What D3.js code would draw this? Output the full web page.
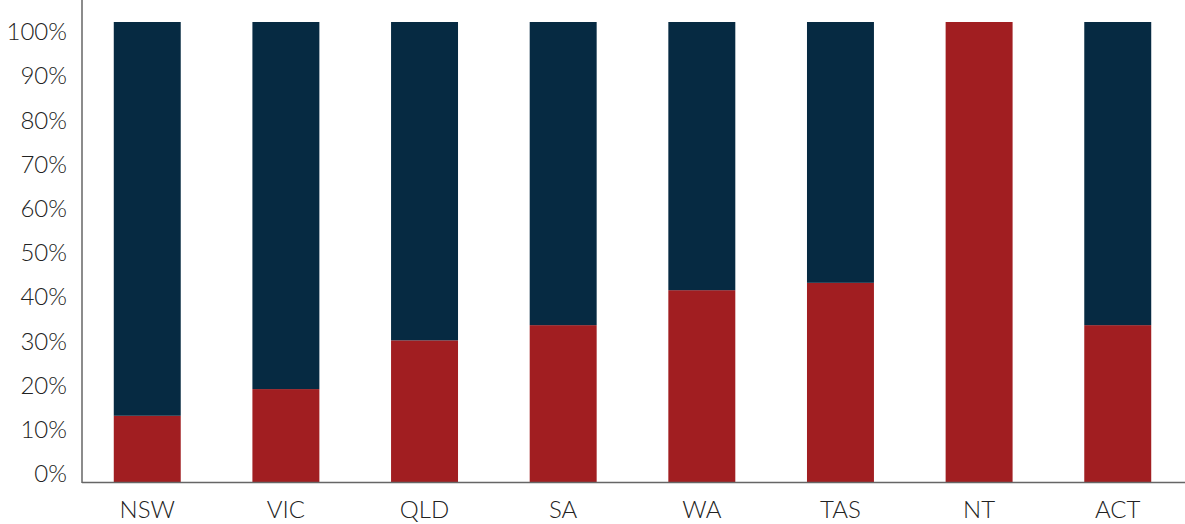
<!DOCTYPE html>
<html>
<head>
<meta charset="utf-8">
<script src="https://cdn.jsdelivr.net/npm/d3@7"></script>
<style>
  body { margin: 0; background: #fff; }
  text { font-family: Lato, "Noto Sans", sans-serif; font-weight: 300; fill: #222; }
</style>
</head>
<body>
<script>
var w = 1185;
var h = 524;

// share of each state, red part (rest is navy)
var states = ["NSW", "VIC", "QLD", "SA", "WA", "TAS", "NT", "ACT"];
var redShare = [0.144, 0.202, 0.308, 0.341, 0.417, 0.433, 1.0, 0.341];
var navyShare = [0.856, 0.798, 0.692, 0.659, 0.583, 0.567, 0.0, 0.659];
var tickValues = [0, 0.1, 0.2, 0.3, 0.4, 0.5, 0.6, 0.7, 0.8, 0.9, 1.0];

var red = "#a11e21";
var navy = "#062a42";

var svg = d3.select("body")
            .append("svg")
            .attr("width", w)
            .attr("height", h);

var x = d3.scaleBand()
          .domain(states)
          .range([78, 1187])
          .paddingInner(0.517)
          .paddingOuter(0.258);

var y = d3.scaleLinear().domain([0, 1]).range([482, 22]);
// labels sit a little tighter than the bars
var yLab = d3.scaleLinear().domain([0, 1]).range([474, 32]);

var rows = states.map(function(s, i) {
    return { state: s, red: redShare[i], navy: navyShare[i] };
});
var stack = d3.stack().keys(["red", "navy"])(rows);
var colors = { red: red, navy: navy };

svg.selectAll("g.layer")
    .data(stack)
    .enter()
    .append("g")
    .attr("class", "layer")
    .attr("fill", function(d) { return colors[d.key]; })
    .selectAll("rect")
    .data(function(d) { return d; })
    .enter()
    .append("rect")
    .attr("x", function(d) { return x(d.data.state); })
    .attr("width", x.bandwidth())
    .attr("y", function(d) { return y(d[1]); })
    .attr("height", function(d) { return y(d[0]) - y(d[1]); });

// axis lines
svg.append("line")
    .attr("x1", 82).attr("x2", 82)
    .attr("y1", 0).attr("y2", 483)
    .attr("stroke", "#666").attr("stroke-width", 1.5);
svg.append("line")
    .attr("x1", 82).attr("x2", 1185)
    .attr("y1", 482.5).attr("y2", 482.5)
    .attr("stroke", "#666").attr("stroke-width", 1.5);

var yAxis = svg.append("g")
    .attr("transform", "translate(67,0)")
    .call(d3.axisLeft(yLab).tickValues(tickValues).tickSize(0).tickPadding(0)
        .tickFormat(d3.format(".0%")));
yAxis.select(".domain").remove();
yAxis.selectAll("text")
    .style("font-size", "24px")
    .style("fill", "#222");

var xAxis = svg.append("g")
    .attr("transform", "translate(0,501)")
    .call(d3.axisBottom(x).tickSize(0).tickPadding(0));
xAxis.select(".domain").remove();
xAxis.selectAll("text")
    .style("font-size", "24px")
    .style("fill", "#222");
</script>
</body>
</html>
